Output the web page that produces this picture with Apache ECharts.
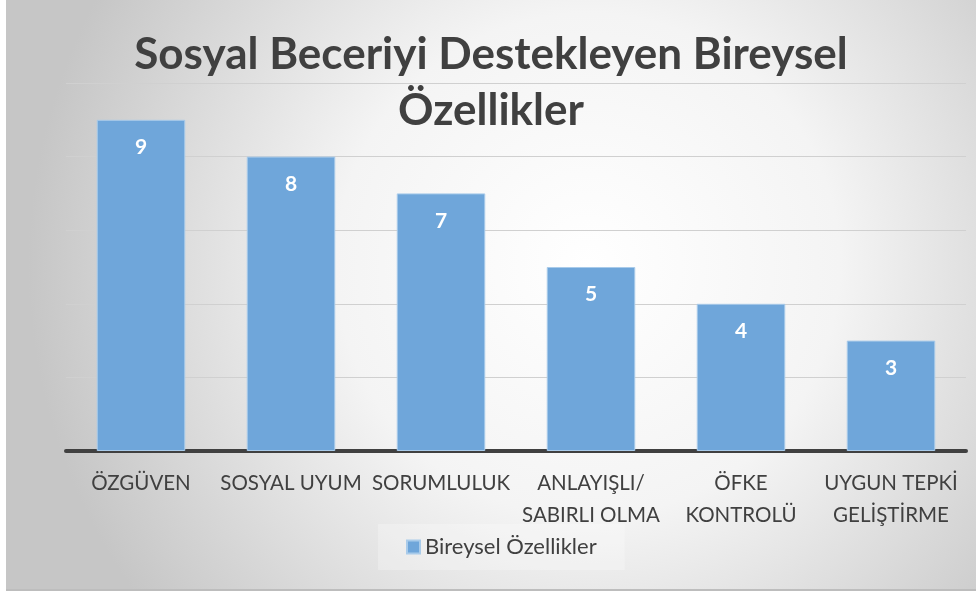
<!DOCTYPE html>
<html>
<head>
<meta charset="utf-8">
<script src="https://cdn.jsdelivr.net/npm/echarts@6/dist/echarts.min.js"></script>
<style>
  html, body { margin: 0; padding: 0; background: #fff; }
  #chart { position: absolute; left: 6px; top: 0; width: 970px; height: 589px; border-bottom: 2px solid #bdbdbd; }
</style>
</head>
<body>
<div id="chart"></div>
<script>
// veriler
var categories = ['ÖZGÜVEN', 'SOSYAL UYUM', 'SORUMLULUK', 'ANLAYIŞLI/\nSABIRLI OLMA', 'ÖFKE\nKONTROLÜ', 'UYGUN TEPKİ\nGELİŞTİRME'];
var values = [9, 8, 7, 5, 4, 3];
var seriesName = 'Bireysel Özellikler';
var titleText = 'Sosyal Beceriyi Destekleyen Bireysel\nÖzellikler';

var myChart = echarts.init(document.getElementById('chart'));
var option = {
  backgroundColor: {
    type: 'radial', x: 0.6, y: 0.45, r: 0.95,
    colorStops: [
      {offset: 0, color: '#ffffff'},
      {offset: 0.45, color: '#f4f4f4'},
      {offset: 1, color: '#c6c6c6'}
    ]
  },
  title: {
    text: titleText,
    left: 'center',
    top: 22,
    textStyle: {
      fontFamily: 'Lato', fontWeight: 'bold', fontSize: 44,
      color: '#404040', lineHeight: 56
    }
  },
  legend: {
    data: [seriesName],
    bottom: 19,
    left: 372,
    icon: 'rect',
    itemWidth: 13,
    itemHeight: 13,
    itemGap: 6,
    padding: [12, 28],
    backgroundColor: 'rgba(255,255,255,0.25)',
    textStyle: {fontFamily: 'Lato', fontSize: 22, color: '#404040'}
  },
  grid: {left: 60, right: 10, top: 83, bottom: 138},
  xAxis: {
    type: 'category',
    data: categories,
    axisTick: {show: false},
    axisLine: {lineStyle: {color: '#404040', width: 4}},
    axisLabel: {
      interval: 0, margin: 16, fontFamily: 'Lato', fontSize: 20.5,
      color: '#404040', lineHeight: 32
    }
  },
  yAxis: {
    type: 'value', min: 0, max: 10, interval: 2,
    axisLabel: {show: false},
    axisLine: {show: false},
    axisTick: {show: false},
    splitLine: {lineStyle: {color: '#d0d0d0', width: 1}}
  },
  series: [{
    name: seriesName,
    type: 'bar',
    data: values,
    barWidth: '59%',
    itemStyle: {color: '#6fa6da', borderColor: '#a9cbea', borderWidth: 1},
    label: {
      show: true, position: 'insideTop', distance: 17,
      color: '#ffffff', fontFamily: 'Lato', fontWeight: 'bold', fontSize: 21
    }
  }]
};
myChart.setOption(option);
</script>
</body>
</html>
